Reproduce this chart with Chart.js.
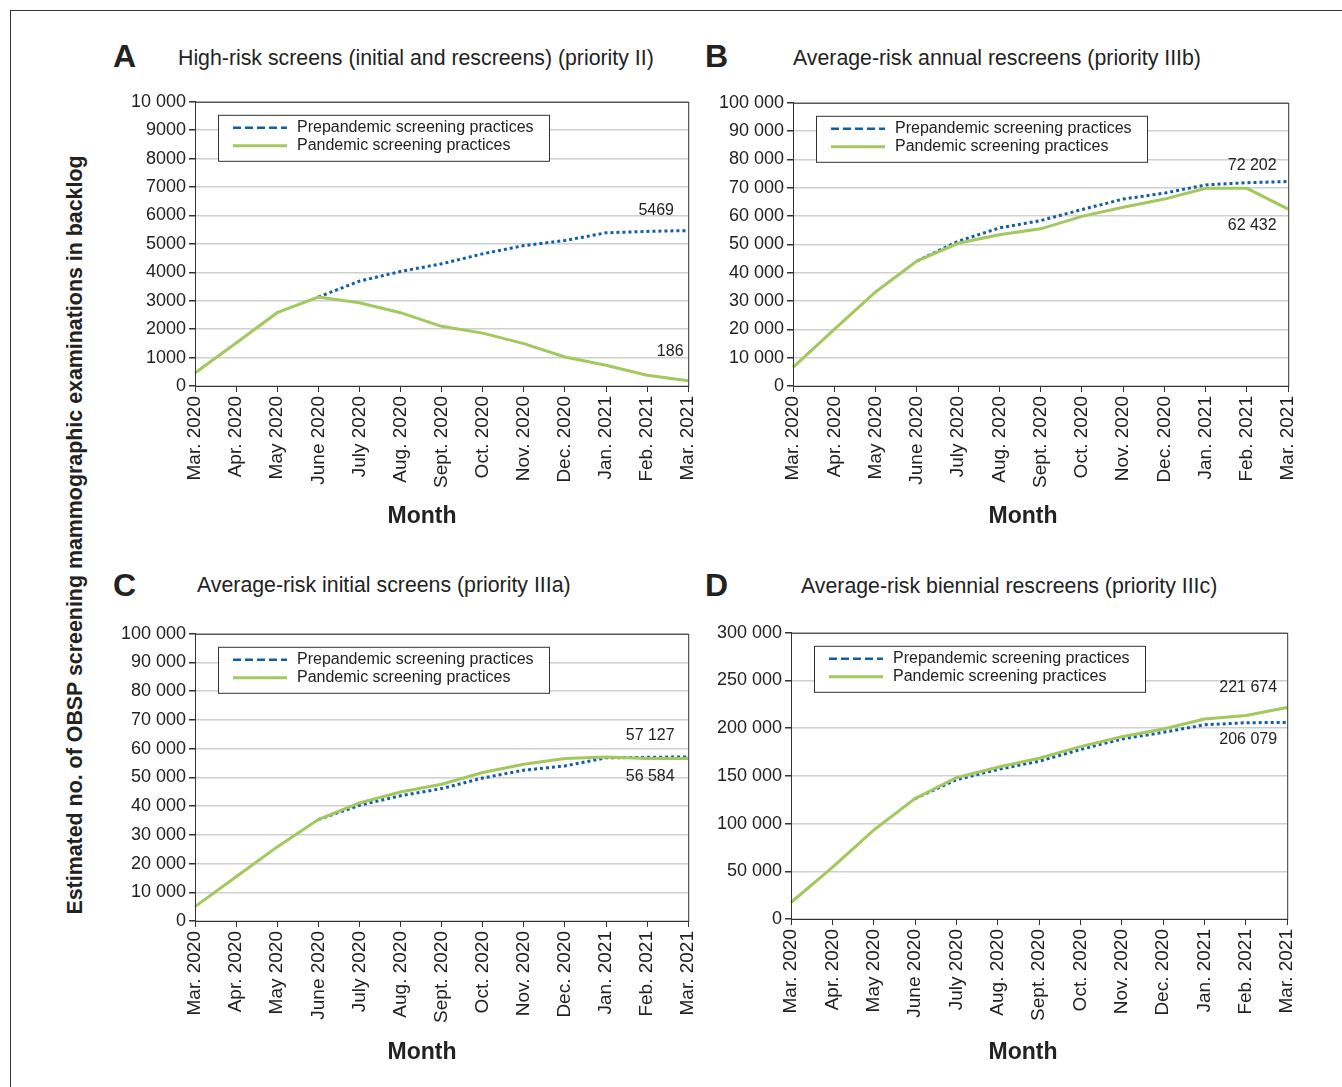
<!DOCTYPE html>
<html>
<head>
<meta charset="utf-8">
<script src="https://cdn.jsdelivr.net/npm/chart.js@4"></script>
<style>
  body { margin: 0; background: #fff; font-family: "Liberation Sans", Arial, sans-serif; color: #222; }
  #page { position: relative; width: 1342px; height: 1087px; overflow: hidden; }
  #frame { position: absolute; left: 10px; top: 10px; width: 1400px; height: 1200px; border: 1px solid #333; }
  .panel { position: absolute; }
  .letter { position: absolute; font-weight: bold; font-size: 32px; line-height: 1; }
  .ptitle { position: absolute; font-size: 21.3px; line-height: 1; white-space: nowrap; }
  .xtitle { position: absolute; font-size: 23px; font-weight: bold; line-height: 1; transform: translate(-50%, -50%); }
  #ytitle { position: absolute; left: 75px; top: 535px; transform: translate(-50%, -50%) rotate(-90deg);
            white-space: nowrap; font-weight: bold; font-size: 21.4px; }
</style>
</head>
<body>
<div id="page">
  <div id="frame"></div>
  <div id="ytitle">Estimated no. of OBSP screening mammographic examinations in backlog</div>
</div>
<script>
const months = ['Mar. 2020', 'Apr. 2020', 'May 2020', 'June 2020', 'July 2020', 'Aug. 2020', 'Sept. 2020',
                'Oct. 2020', 'Nov. 2020', 'Dec. 2020', 'Jan. 2021', 'Feb. 2021', 'Mar. 2021'];

// A - high-risk screens
const highRiskPre = [null, null, null, 3130, 3690, 4030, 4300, 4650, 4940, 5120, 5390, 5440, 5469];
const highRiskPan = [460, 1510, 2580, 3130, 2930, 2580, 2100, 1860, 1490, 1020, 730, 380, 186];
// B - average-risk annual rescreens
const annualPre = [null, null, null, 44100, 51100, 55800, 58400, 62300, 66000, 68100, 71000, 71800, 72202];
const annualPan = [6600, 20000, 33200, 44100, 50400, 53400, 55500, 59900, 63100, 66000, 69800, 69800, 62432];
// C - average-risk initial screens
const initialPre = [null, null, null, 35300, 40300, 43600, 46100, 49800, 52500, 54000, 56800, 57000, 57127];
const initialPan = [5000, 15400, 25800, 35300, 41100, 44900, 47600, 51700, 54600, 56600, 57100, 56600, 56584];
// D - average-risk biennial rescreens
const biennialPre = [null, null, null, 126200, 146000, 156700, 165400, 177600, 188700, 195600, 203600, 205700, 206079];
const biennialPan = [17300, 54200, 93100, 126200, 148100, 159100, 168500, 180700, 191100, 199200, 209600, 213400, 221674];

const yMax = [10000, 100000, 100000, 300000];
const yStep = [1000, 10000, 10000, 50000];
const seriesNames = ['Prepandemic screening practices', 'Pandemic screening practices'];

const BLUE = '#115ea6';
const GREEN = '#a2c85e';
const FONT = '"Liberation Sans", Arial, sans-serif';

// 10 000 style, but 4-digit numbers stay plain
function fmt(v) {
    if (v < 10000) return String(v);
    return String(v).replace(/\B(?=(\d{3})+(?!\d))/g, ' ');
}

const panels = [
    { letter: 'A', title: 'High-risk screens (initial and rescreens) (priority II)', pre: highRiskPre, pan: highRiskPan,
      left: 110, top: 88, w: 605, h: 443, lx: 113, ly: 40, tx: 178, ty: 48, mx: 422, my: 515,
      labels: [[0, -32, -20], [1, -18, -29]] },
    { letter: 'B', title: 'Average-risk annual rescreens (priority IIIb)', pre: annualPre, pan: annualPan,
      left: 708, top: 89, w: 607, h: 442, lx: 705, ly: 40, tx: 793, ty: 48, mx: 1023, my: 515,
      labels: [[0, -36, -16], [1, -36, 16]] },
    { letter: 'C', title: 'Average-risk initial screens (priority IIIa)', pre: initialPre, pan: initialPan,
      left: 110, top: 620, w: 605, h: 446, lx: 113, ly: 569, tx: 197, ty: 575, mx: 422, my: 1051,
      labels: [[0, -38, -21], [1, -38, 18]] },
    { letter: 'D', title: 'Average-risk biennial rescreens (priority IIIc)', pre: biennialPre, pan: biennialPan,
      left: 706, top: 619, w: 608, h: 445, lx: 705, ly: 569, tx: 801, ty: 576, mx: 1023, my: 1051,
      labels: [[1, -39, -20], [0, -39, 17]] }
];

// border round the plot area
const boxPlugin = {
    id: 'plotBox',
    afterDraw(chart) {
        const a = chart.chartArea, ctx = chart.ctx;
        ctx.save();
        ctx.strokeStyle = '#333';
        ctx.lineWidth = 1;
        ctx.strokeRect(a.left + 0.5, a.top + 0.5, a.right - a.left, a.bottom - a.top);
        ctx.restore();
    }
};

// legend box inside the plot, dashed sample for the prepandemic line
const legendPlugin = {
    id: 'boxLegend',
    afterDraw(chart) {
        const a = chart.chartArea, ctx = chart.ctx;
        const x = a.left + 23, y = a.top + 13;
        ctx.save();
        ctx.fillStyle = '#fff';
        ctx.fillRect(x, y, 331, 46);
        ctx.strokeStyle = '#333';
        ctx.lineWidth = 1;
        ctx.strokeRect(x + 0.5, y + 0.5, 331, 46);
        ctx.font = '16px ' + FONT;
        ctx.textBaseline = 'middle';
        chart.data.datasets.forEach((ds, i) => {
            const cy = y + 13 + i * 18;
            ctx.beginPath();
            ctx.strokeStyle = ds.borderColor;
            ctx.lineWidth = i === 0 ? 2.5 : 3;
            ctx.setLineDash(i === 0 ? [8, 4] : []);
            ctx.moveTo(x + 15, cy);
            ctx.lineTo(x + 69, cy);
            ctx.stroke();
            ctx.setLineDash([]);
            ctx.fillStyle = '#222';
            ctx.fillText(ds.label, x + 79, cy);
        });
        ctx.restore();
    }
};

// final values written next to the last points
const endLabels = {
    id: 'endLabels',
    afterDatasetsDraw(chart, args, opts) {
        const ctx = chart.ctx;
        ctx.save();
        ctx.font = '16px ' + FONT;
        ctx.fillStyle = '#222';
        ctx.textAlign = 'center';
        ctx.textBaseline = 'middle';
        opts.items.forEach(([ds, dx, dy]) => {
            const data = chart.data.datasets[ds].data;
            const pt = chart.getDatasetMeta(ds).data[data.length - 1];
            ctx.fillText(fmt(data[data.length - 1]), pt.x + dx, pt.y + dy);
        });
        ctx.restore();
    }
};

const page = document.getElementById('page');

function addText(cls, x, y, text) {
    const el = document.createElement('div');
    el.className = cls;
    el.style.left = x + 'px';
    el.style.top = y + 'px';
    el.textContent = text;
    page.appendChild(el);
}

panels.forEach((p, idx) => {
    addText('letter', p.lx, p.ly, p.letter);
    addText('ptitle', p.tx, p.ty, p.title);

    const holder = document.createElement('div');
    holder.className = 'panel';
    holder.style.left = p.left + 'px';
    holder.style.top = p.top + 'px';
    const canvas = document.createElement('canvas');
    canvas.width = p.w;
    canvas.height = p.h;
    holder.appendChild(canvas);
    page.appendChild(holder);

    addText('xtitle', p.mx, p.my, 'Month');

    new Chart(canvas.getContext('2d'), {
        type: 'line',
        data: {
            labels: months,
            datasets: [
                {
                    label: seriesNames[0],
                    data: p.pre,
                    borderColor: BLUE,
                    borderWidth: 3,
                    borderDash: [3, 3],
                    pointRadius: 0,
                    tension: 0,
                    order: 1
                },
                {
                    label: seriesNames[1],
                    data: p.pan,
                    borderColor: GREEN,
                    borderWidth: 3,
                    pointRadius: 0,
                    tension: 0,
                    order: 0
                }
            ]
        },
        options: {
            responsive: false,
            animation: false,
            layout: { padding: { top: 10, right: 12 } },
            plugins: {
                legend: { display: false },
                tooltip: { enabled: false },
                endLabels: { items: p.labels }
            },
            scales: {
                x: {
                    afterFit: s => { s.height = 145; },
                    grid: { drawOnChartArea: false, drawTicks: true, tickLength: 6, tickColor: '#333' },
                    border: { color: '#333' },
                    ticks: {
                        minRotation: 90, maxRotation: 90, autoSkip: false, padding: 4,
                        color: '#222', font: { family: FONT, size: 19 }
                    }
                },
                y: {
                    min: 0,
                    max: yMax[idx],
                    afterFit: s => { s.width = 85; },
                    grid: { color: '#cfcfcf', lineWidth: 1.5, tickLength: 6, tickColor: '#333' },
                    border: { color: '#333' },
                    ticks: {
                        stepSize: yStep[idx], padding: 3, color: '#222',
                        font: { family: FONT, size: 18 },
                        callback: v => fmt(v)
                    }
                }
            }
        },
        plugins: [boxPlugin, legendPlugin, endLabels]
    });
});
</script>
</body>
</html>
